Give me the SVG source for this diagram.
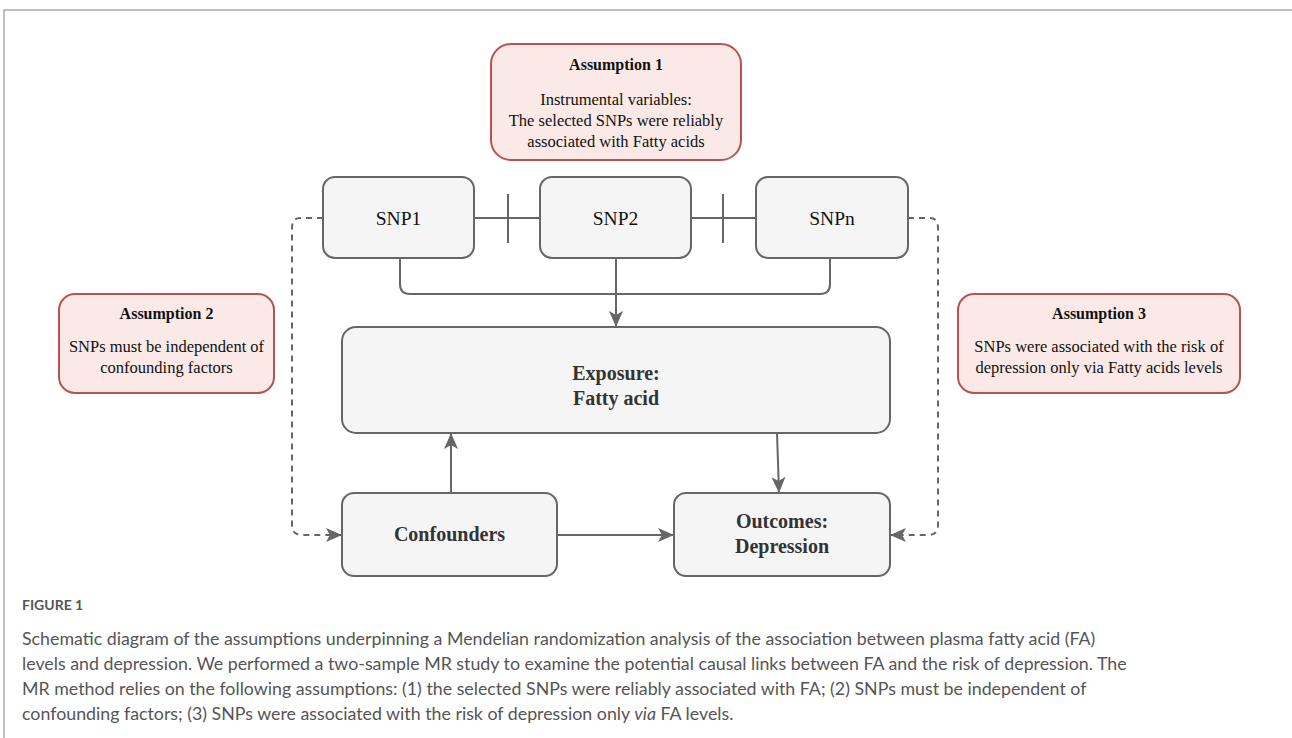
<svg xmlns="http://www.w3.org/2000/svg" width="1292" height="738" viewBox="0 0 1292 738">
<defs>
<style>
.box{fill:#f5f5f5;stroke:#666;stroke-width:2}
.asm{fill:#fae9e7;stroke:#b85450;stroke-width:2}
.t{font-family:"Liberation Serif",serif;fill:#111;text-anchor:middle}
.b{font-weight:bold;fill:#333}
.ln{fill:none;stroke:#666;stroke-width:2}
.dash{fill:none;stroke:#666;stroke-width:2;stroke-dasharray:6 5}
.cap{font-family:Lato,"Open Sans",sans-serif;fill:#555;font-size:17.8px}
</style>
<marker id="ah" viewBox="0 0 16 16" refX="15" refY="8" markerWidth="16" markerHeight="16" orient="auto" markerUnits="userSpaceOnUse">
<path d="M0,1 L16,8 L0,15 L4,8 z" fill="#666"/>
</marker>
</defs>
<rect width="1292" height="738" fill="#fff"/>
<path d="M4,738 V10 H1292" fill="none" stroke="#aaa" stroke-width="1.5"/>

<g id="connectors">
<line class="ln" x1="474" y1="218" x2="540" y2="218"/>
<line class="ln" x1="508" y1="194" x2="508" y2="243"/>
<line class="ln" x1="691" y1="218" x2="756" y2="218"/>
<line class="ln" x1="723" y1="194" x2="723" y2="243"/>
<path class="ln" d="M400,258 V284 Q400,294 410,294 H820 Q830,294 830,284 V258"/>
<line class="ln" x1="616" y1="258" x2="616" y2="326" marker-end="url(#ah)"/>
<line class="ln" x1="451" y1="493" x2="451" y2="434" marker-end="url(#ah)"/>
<line class="ln" x1="777" y1="433" x2="779" y2="492" marker-end="url(#ah)"/>
<line class="ln" x1="557" y1="535" x2="673" y2="535" marker-end="url(#ah)"/>
<path class="dash" d="M323,218 H300 Q292,218 292,228 V525 Q292,535 302,535 H341" marker-end="url(#ah)"/>
<path class="dash" d="M908,218 H930 Q938,218 938,228 V525 Q938,535 928,535 H891" marker-end="url(#ah)"/>
</g>

<g id="assumption1">
<rect class="asm" x="491" y="44" width="250" height="116" rx="20"/>
<text class="t b" x="616" y="70" font-size="16" style="fill:#111">Assumption 1</text>
<text class="t" x="616" y="105" font-size="16.5">Instrumental variables:</text>
<text class="t" x="616" y="126" font-size="16.5">The selected SNPs were reliably</text>
<text class="t" x="616" y="147" font-size="16.5">associated with Fatty acids</text>
</g>
<g id="snp1"><rect class="box" x="323" y="177" width="151" height="81" rx="12"/><text class="t" x="398.5" y="225" font-size="19.5">SNP1</text></g>
<g id="snp2"><rect class="box" x="540" y="177" width="151" height="81" rx="12"/><text class="t" x="615.5" y="225" font-size="19.5">SNP2</text></g>
<g id="snpn"><rect class="box" x="756" y="177" width="152" height="81" rx="12"/><text class="t" x="832" y="225" font-size="19.5">SNPn</text></g>
<g id="assumption2">
<rect class="asm" x="59" y="294" width="215" height="99" rx="16"/>
<text class="t b" x="166.5" y="319" font-size="16" style="fill:#111">Assumption 2</text>
<text class="t" x="166.5" y="352" font-size="16.5">SNPs must be independent of</text>
<text class="t" x="166.5" y="373" font-size="16.5">confounding factors</text>
</g>
<g id="assumption3">
<rect class="asm" x="958" y="294" width="282" height="99" rx="16"/>
<text class="t b" x="1099" y="319" font-size="16" style="fill:#111">Assumption 3</text>
<text class="t" x="1099" y="352" font-size="16.5">SNPs were associated with the risk of</text>
<text class="t" x="1099" y="373" font-size="16.5">depression only via Fatty acids levels</text>
</g>
<g id="exposure">
<rect class="box" x="342" y="327" width="548" height="106" rx="14"/>
<text class="t b" x="616" y="380" font-size="20">Exposure:</text>
<text class="t b" x="616" y="405" font-size="20">Fatty acid</text>
</g>
<g id="confounders">
<rect class="box" x="342" y="493" width="215" height="83" rx="12"/>
<text class="t b" x="449.5" y="541" font-size="20">Confounders</text>
</g>
<g id="outcomes">
<rect class="box" x="674" y="493" width="216" height="83" rx="12"/>
<text class="t b" x="782" y="528" font-size="20">Outcomes:</text>
<text class="t b" x="782" y="553" font-size="20">Depression</text>
</g>

<g id="caption">
<text class="cap" x="22" y="610" font-weight="bold" style="font-size:14px">FIGURE 1</text>
<text class="cap" x="22" y="645">Schematic diagram of the assumptions underpinning a Mendelian randomization analysis of the association between plasma fatty acid (FA)</text>
<text class="cap" x="22" y="670">levels and depression. We performed a two-sample MR study to examine the potential causal links between FA and the risk of depression. The</text>
<text class="cap" x="22" y="695">MR method relies on the following assumptions: (1) the selected SNPs were reliably associated with FA; (2) SNPs must be independent of</text>
<text class="cap" x="22" y="720">confounding factors; (3) SNPs were associated with the risk of depression only <tspan font-style="italic">via</tspan> FA levels.</text>
</g>
</svg>
